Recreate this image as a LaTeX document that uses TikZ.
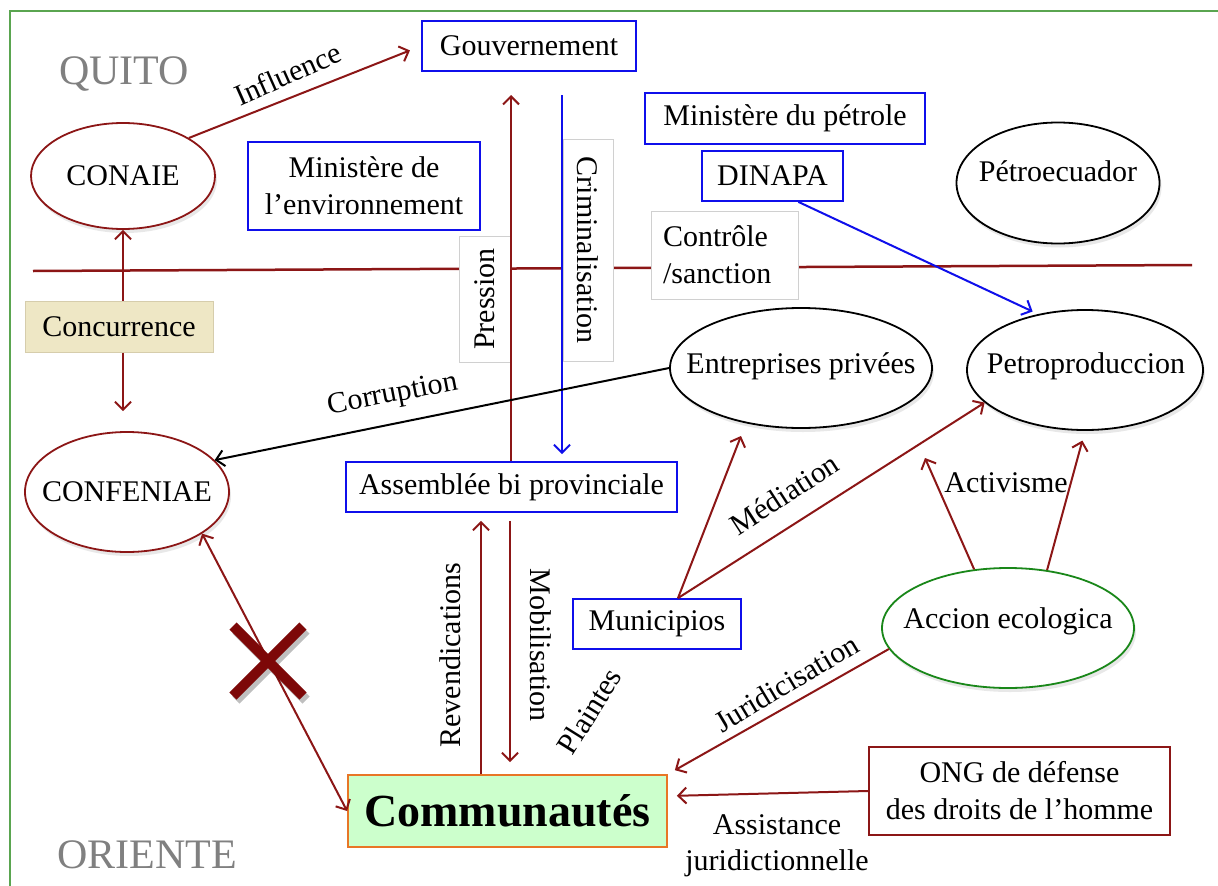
\documentclass[tikz,border=0pt]{standalone}
\usepackage{fontspec}
\setmainfont{Liberation Serif}
\usetikzlibrary{arrows.meta,shapes.geometric,shadows,calc}
\definecolor{xred}{RGB}{140,22,22}
\definecolor{xmaroon}{RGB}{125,8,8}
\definecolor{xblue}{RGB}{15,15,235}
\definecolor{xgreen}{RGB}{25,135,25}
\definecolor{xframe}{RGB}{90,165,80}
\definecolor{xbeige}{RGB}{238,231,197}
\definecolor{xbeigeb}{RGB}{214,205,172}
\definecolor{xlgreen}{RGB}{204,255,204}
\definecolor{xorange}{RGB}{232,118,38}
\definecolor{xlgray}{RGB}{208,208,208}
\definecolor{xtgray}{RGB}{128,128,128}
\tikzset{
  txt/.style={font=\fontsize{30}{37}\selectfont, inner sep=0pt, text height=20pt, text depth=6pt},
  mtxt/.style={font=\fontsize{30}{36}\selectfont, inner sep=0pt, align=center},
  bluebox/.style={draw=xblue, line width=1.8pt, fill=white, font=\fontsize{30}{37}\selectfont, inner sep=0pt, align=center},
  lblbox/.style={draw=xlgray, line width=1pt, fill=white, font=\fontsize{30}{37}\selectfont, inner sep=0pt},
  ell/.style={ellipse, draw, line width=1.8pt, fill=white, inner sep=0pt,
    drop shadow={opacity=0.18, shadow xshift=2pt, shadow yshift=-4pt}},
  arr/.style={-{Straight Barb[length=8pt,width=16pt]}, line width=2pt},
  arrboth/.style={{Straight Barb[length=8pt,width=16pt]}-{Straight Barb[length=8pt,width=16pt]}, line width=2pt},
  region/.style={font=\fontsize{42}{42}\selectfont, text=xtgray, inner sep=0pt},
}
\begin{document}
\begin{tikzpicture}[x=1pt,y=-1pt]
\useasboundingbox (0,0) rectangle (1218,886);
\fill[white] (0,0) rectangle (1218,886);
\draw[xframe, line width=1.5pt] (10,886) -- (10,11) -- (1218,11);
% divider
\coordinate (dl) at (33,271);
\coordinate (dr) at (1192,265);
\draw[xred, line width=2.5pt] (dl) -- (dr);

\node[region] (quito) at (124,74) {QUITO};
\node[region] (oriente) at (147,855) {ORIENTE};

% ellipses
\node[ell, draw=xred, minimum width=184pt, minimum height=106pt] (conaie) at (123,176) {};
\node[txt] (conaiet) at (123,178) {CONAIE};
\node[ell, draw=xred, minimum width=204pt, minimum height=120pt] (confen) at (127,492) {};
\node[txt] (confent) at (127,494) {CONFENIAE};
\node[ell, draw=black, minimum width=203pt, minimum height=121pt] (petroec) at (1058,183) {};
\node[txt] (petroect) at (1058,174) {Pétroecuador};
\node[ell, draw=black, minimum width=262pt, minimum height=120pt] (entre) at (801,368) {};
\node[txt] (entret) at (801,366) {Entreprises privées};
\node[ell, draw=black, minimum width=236pt, minimum height=120pt] (petrop) at (1085,370) {};
\node[txt] (petropt) at (1086,366) {Petroproduccion};
\node[ell, draw=xgreen, minimum width=252pt, minimum height=120pt] (accion) at (1008,628) {};
\node[txt] (acciont) at (1008,621) {Accion ecologica};

% boxes
\node[bluebox, minimum width=214pt, minimum height=50pt] (gouv) at (529,46) {Gouvernement};
\node[bluebox, minimum width=232pt, minimum height=88pt] (minenv) at (364,186) {Ministère de\\l’environnement};
\node[bluebox, minimum width=280pt, minimum height=51pt] (minpet) at (785,118.5) {Ministère du pétrole};
\node[bluebox, minimum width=141pt, minimum height=50pt] (dinapa) at (772.5,176) {DINAPA};
\node[bluebox, minimum width=331pt, minimum height=50pt] (assem) at (511.5,487) {Assemblée bi provinciale};
\node[bluebox, minimum width=168pt, minimum height=50pt] (munic) at (657,624) {Municipios};
\node[bluebox, draw=xred, minimum width=301pt, minimum height=88pt] (ong) at (1019.5,791) {ONG de défense\\des droits de l’homme};
\node[draw=xorange, fill=xlgreen, line width=1.8pt, minimum width=319pt, minimum height=72pt, inner sep=0pt,
  font=\fontsize{46}{50}\selectfont\bfseries] (commu) at (507.5,811) {Communautés};
\node[draw=xbeigeb, fill=xbeige, line width=1pt, minimum width=188pt, minimum height=51pt, inner sep=0pt,
  font=\fontsize{30}{37}\selectfont] (concur) at (119,326.5) {Concurrence};

% label boxes
\node[lblbox, rotate=90, minimum width=126pt, minimum height=51pt] (press) at (484.5,299) {Pression};
\node[lblbox, rotate=-90, minimum width=222pt, minimum height=50pt] (crim) at (588,250) {Criminalisation};
\node[lblbox, minimum width=147pt, minimum height=88pt, align=left, text width=123pt] (ctrl) at (724.5,255) {Contrôle\\/sanction};

% connector labels
\node[txt, rotate=24] (linfl) at (289,77) {Influence};
\node[txt, rotate=11] (lcorr) at (393,395) {Corruption};
\node[txt, rotate=33] (lmed) at (786,497) {Médiation};
\node[txt] (lact) at (1006,485) {Activisme};
\node[txt, rotate=31] (ljur) at (788,686) {Juridicisation};
\node[txt, rotate=58] (lplain) at (592,713) {Plaintes};
\node[txt, rotate=90] (lrev) at (453,655) {Revendications};
\node[txt, rotate=-90] (lmob) at (537,645) {Mobilisation};
\node[mtxt] (lass) at (777,846) {Assistance\\juridictionnelle};

% connectors
\draw[arr, xred, shorten >=12pt] (conaie.30) -- (gouv.west);
\draw[arr, xred] (concur.north -| conaie.south) -- (conaie.south);
\draw[arr, xred, shorten >=20pt] (concur.south -| conaie.south) -- (confen.north -| conaie.south);
\coordinate (pup) at (511,95);
\coordinate (cup) at (562,95);
\draw[arr, xred] (assem.north -| pup) -- (pup);
\draw[arr, xblue, shorten >=7pt] (cup) -- (assem.north -| cup);
\draw[arr, xblue, shorten >=6pt] (dinapa.-45) -- (petrop.130);
\draw[arr, black] (entre.west) -- (confen.20);
\coordinate (mtip) at (741,436);
\draw[arr, xred] (munic.51) -- (mtip);
\draw[arr, xred] (munic.51) -- (petrop.198);
\coordinate (atip) at (925,458);
\draw[arr, xred] (accion.120) -- (atip);
\draw[arr, xred, shorten >=10pt] (accion.56) -- (petrop.south);
\draw[arr, xred, shorten >=8pt] (accion.190) -- (commu.north east);
\draw[arr, xred, shorten >=9pt] (ong.west) -- ($(commu.east)+(0,-15)$);
\coordinate (rvx) at (481,0);
\coordinate (mbx) at (510,0);
\draw[arr, xred, shorten >=8pt] (commu.north -| rvx) -- (assem.south -| rvx);
\draw[arr, xred, shorten <=8pt, shorten >=12pt] (assem.south -| mbx) -- (commu.north -| mbx);
\draw[arrboth, xred] (confen.-29) -- (commu.west);

% cross mark
\draw[line width=10pt, black, opacity=0.25] (236,630) -- (306,700) (236,700) -- (306,630);
\draw[line width=10pt, xmaroon] (233,626) -- (303,696) (233,696) -- (303,626);
\end{tikzpicture}
\end{document}
